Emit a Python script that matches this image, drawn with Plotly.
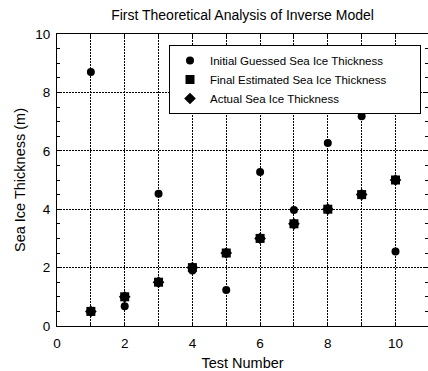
import plotly.graph_objects as go

test_number = [1, 2, 3, 4, 5, 6, 7, 8, 9, 10]
initial_guess = [8.70, 0.68, 4.53, 1.90, 1.23, 5.27, 3.97, 6.27, 7.18, 2.55]
final_estimate = [0.5, 1.0, 1.5, 2.0, 2.5, 3.0, 3.5, 4.0, 4.5, 5.0]
actual = [0.5, 1.0, 1.5, 2.0, 2.5, 3.0, 3.5, 4.0, 4.5, 5.0]

FONT = "Liberation Sans, Arial, Helvetica, sans-serif"
PAD = "\u00a0" * 9  # widens the legend box to match the reference

fig = go.Figure()
fig.add_trace(go.Scatter(x=test_number, y=initial_guess, mode="markers",
                         name="Initial Guessed Sea Ice Thickness", legendrank=1,
                         marker=dict(symbol="circle", size=8, color="black")))
fig.add_trace(go.Scatter(x=test_number, y=actual, mode="markers",
                         name="Actual Sea Ice Thickness", legendrank=3,
                         marker=dict(symbol="diamond", size=9, color="black")))
fig.add_trace(go.Scatter(x=test_number, y=final_estimate, mode="markers",
                         name="Final Estimated Sea Ice Thickness" + PAD, legendrank=2,
                         marker=dict(symbol="square", size=9, color="black")))

axis_common = dict(
    showline=True, linecolor="black", linewidth=1, mirror="ticks",
    ticks="inside", tickcolor="black", tickwidth=1,
    showgrid=True, gridcolor="black", gridwidth=1, griddash="2px,1px",
    zeroline=False,
    tickfont=dict(family=FONT, size=13.5, color="black"),
)

fig.update_xaxes(
    range=[0, 10.96], tickmode="linear", tick0=0, dtick=2, ticklen=4,
    ticklabelstandoff=5,
    minor=dict(dtick=1, tick0=0, ticks="inside", ticklen=4, tickcolor="black",
               showgrid=True, gridcolor="black", gridwidth=1, griddash="2px,1px"),
    title=dict(text="Test Number", font=dict(family=FONT, size=14.5, color="black"), standoff=7),
    **axis_common,
)
fig.update_yaxes(
    range=[0, 10], tickmode="linear", tick0=0, dtick=2, ticklen=4,
    ticklabelstandoff=3,
    minor=dict(dtick=0.5, tick0=0, ticks="inside", ticklen=3, tickcolor="black", showgrid=False),
    title=dict(text="Sea Ice Thickness (m)", font=dict(family=FONT, size=14.5, color="black"), standoff=6),
    **axis_common,
)

# legend drop shadow
fig.add_shape(type="rect", xref="paper", yref="paper",
              x0=(172 - 57) / 371, x1=(420 - 57) / 371,
              y0=(326 - 113) / 292, y1=(326 - 48) / 292,
              fillcolor="black", line=dict(width=0), layer="above")

fig.update_layout(
    width=428, height=371,
    margin=dict(l=57, r=0, t=34, b=45),
    paper_bgcolor="white", plot_bgcolor="white",
    title=dict(text="First Theoretical Analysis of Inverse Model",
               font=dict(family=FONT, size=14, color="black"),
               x=0.5, xref="paper", y=1 - 15 / 371, yanchor="middle"),
    showlegend=True,
    legend=dict(x=(169 - 57) / 371, y=(326 - 45) / 292, xanchor="left", yanchor="top",
                bgcolor="white", bordercolor="black", borderwidth=1,
                font=dict(family=FONT, size=11.5, color="black"),
                tracegroupgap=0),
)

fig.write_html("out.html")
